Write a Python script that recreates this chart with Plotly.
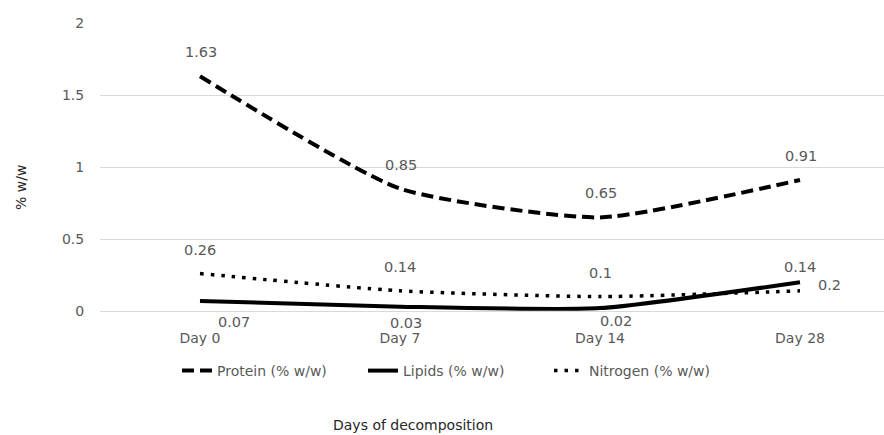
import plotly.graph_objects as go

categories = ["Day 0", "Day 7", "Day 14", "Day 28"]
protein = [1.63, 0.85, 0.65, 0.91]
lipids = [0.07, 0.03, 0.02, 0.2]
nitrogen = [0.26, 0.14, 0.1, 0.14]
y_ticks = [0, 0.5, 1, 1.5, 2]
y_tick_labels = ["0", "0.5", "1", "1.5", "2"]

FONT = "DejaVu Sans"
GREY = "#595959"
SMOOTH = 0.55

x_idx = list(range(len(categories)))

fig = go.Figure()
fig.add_trace(go.Scatter(x=x_idx, y=protein, name="Protein (% w/w)", mode="lines",
                         line=dict(color="black", width=4, dash="12px,6px", shape="spline", smoothing=SMOOTH)))
fig.add_trace(go.Scatter(x=x_idx, y=lipids, name="Lipids (% w/w)", mode="lines",
                         line=dict(color="black", width=4, shape="spline", smoothing=SMOOTH)))
fig.add_trace(go.Scatter(x=x_idx, y=nitrogen, name="Nitrogen (% w/w)", mode="lines",
                         line=dict(color="black", width=3.5, dash="3.5px,7px", shape="spline", smoothing=SMOOTH)))

annotations = []
def lab(i, v, xs, ys):
    annotations.append(dict(x=i, y=v, xref="x", yref="y", text=str(v), showarrow=False,
                            xanchor="center", yanchor="middle",
                            xshift=xs, yshift=ys, font=dict(family=FONT, size=14.5, color=GREY)))

for i, v in enumerate(protein):
    lab(i, v, 1, 24)
for i, v in enumerate(nitrogen):
    lab(i, v, 0, 24)
lip_shift = [(34, -21), (6, -16), (16, -13), (29, -3)]
for i, v in enumerate(lipids):
    lab(i, v, *lip_shift[i])

annotations.append(dict(xref="paper", yref="paper", x=(413 - 100) / 784, y=-(425 - 311) / 288,
                        xanchor="center", yanchor="middle", text="Days of decomposition",
                        showarrow=False, font=dict(family=FONT, size=14, color="#262626")))
annotations.append(dict(x=(21 - 100) / 784, y=(311 - 188) / 288, xref="paper", yref="paper",
                        xanchor="center", yanchor="middle",
                        text="% w/w", textangle=-90, showarrow=False,
                        font=dict(family=FONT, size=14, color="#262626")))

fig.update_layout(
    width=884, height=435,
    margin=dict(l=100, r=0, t=23, b=124),
    paper_bgcolor="white", plot_bgcolor="white",
    font=dict(family=FONT, size=14, color=GREY),
    showlegend=True,
    legend=dict(orientation="h", xref="container", yref="container",
                x=177 / 884, y=1 - 355 / 435, xanchor="left", yanchor="top",
                font=dict(family=FONT, size=14, color=GREY), entrywidth=141,
                bgcolor="rgba(0,0,0,0)"),
    annotations=annotations,
)
fig.update_xaxes(range=[-0.5, 3.42], tickmode="array", tickvals=x_idx, ticktext=categories,
                 showgrid=False, zeroline=False, showline=False,
                 ticks="outside", ticklen=14, tickcolor="rgba(0,0,0,0)",
                 tickfont=dict(family=FONT, size=14, color=GREY))
fig.update_yaxes(range=[0, 2], tickmode="array", tickvals=y_ticks, ticktext=y_tick_labels,
                 showgrid=True, gridcolor="#d9d9d9", gridwidth=1, zeroline=True,
                 zerolinecolor="#d9d9d9", zerolinewidth=1, showline=False,
                 ticks="outside", ticklen=12, tickcolor="rgba(0,0,0,0)",
                 tickfont=dict(family=FONT, size=14, color=GREY))

fig.write_html("out.html")
